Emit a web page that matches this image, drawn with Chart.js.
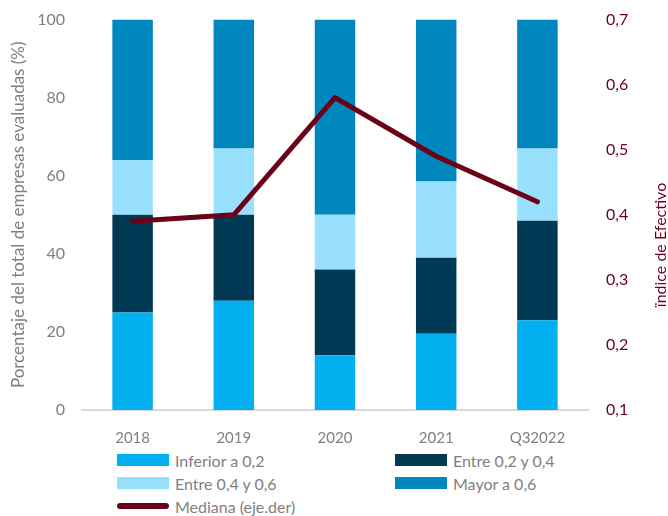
<!DOCTYPE html>
<html>
<head>
<meta charset="utf-8">
<script src="https://cdn.jsdelivr.net/npm/chart.js@4"></script>
<style>
  html, body { margin: 0; padding: 0; background: #fff; }
  #wrap { position: relative; width: 668px; height: 516px; }
  #chart { position: absolute; left: 0; top: 0; }
  #legend {
    position: absolute; left: 117px; top: 450px; width: 540px;
    display: grid; grid-template-columns: 278px 260px; row-gap: 3px;
    font-family: Lato, "Open Sans", sans-serif; font-size: 16px; color: #7f7f7f;
  }
  .item { display: flex; align-items: center; height: 20px; }
  .swatch { width: 52px; height: 12px; margin-right: 6px; }
  .swatch.line { height: 6px; border-radius: 3px; }
</style>
</head>
<body>
<div id="wrap">
  <canvas id="chart" width="668" height="450"></canvas>
  <div id="legend"></div>
</div>
<script>
const years = ['2018', '2019', '2020', '2021', 'Q32022'];

// share of companies by cash index band (%)
const inferior02 = [25, 28, 14, 19.5, 23];
const entre02y04 = [25, 22, 22, 19.5, 25.5];
const entre04y06 = [14, 17, 14, 19.5, 18.5];
const mayor06 = [36, 33, 50, 41.5, 33];

// median index, right axis
const mediana = [0.39, 0.40, 0.58, 0.49, 0.42];

const grey = '#7f7f7f';
const maroon = '#6b0019';
const font = 'Lato, "Open Sans", sans-serif';

const bar = (label, data, color) => ({
  type: 'bar', label, data, backgroundColor: color,
  yAxisID: 'y', stack: 'pct', order: 1,
  barPercentage: 0.4, categoryPercentage: 1
});

// right-hand axis title reads bottom to top
const rightTitle = {
  id: 'rightTitle',
  afterDraw(chart) {
    const { ctx } = chart;
    ctx.save();
    ctx.translate(661, 245);
    ctx.rotate(-Math.PI / 2);
    ctx.font = '16px ' + font;
    ctx.fillStyle = maroon;
    ctx.textAlign = 'center';
    ctx.textBaseline = 'middle';
    ctx.fillText('ïndice de Efectivo', 0, 0);
    ctx.restore();
  }
};

const chart = new Chart(document.getElementById('chart'), {
  data: {
    labels: years,
    datasets: [
      {
        type: 'line', label: 'Mediana (eje.der)', data: mediana,
        yAxisID: 'y1', borderColor: maroon, borderWidth: 5,
        pointRadius: 0, tension: 0, order: 0,
        borderCapStyle: 'round', borderJoinStyle: 'round'
      },
      bar('Inferior a 0,2', inferior02, '#02b0ef'),
      bar('Entre 0,2 y 0,4', entre02y04, '#003a55'),
      bar('Entre 0,4 y 0,6', entre04y06, '#98e0fd'),
      bar('Mayor a 0,6', mayor06, '#0087be')
    ]
  },
  options: {
    responsive: false,
    animation: false,
    layout: { padding: { top: 13, right: 0, left: 8, bottom: 0 } },
    plugins: { legend: { display: false }, tooltip: { enabled: false } },
    scales: {
      x: {
        stacked: true,
        grid: { display: false },
        border: { display: true, color: '#d9d9d9', width: 2 },
        ticks: { color: grey, font: { family: font, size: 15 }, padding: 11 },
        afterFit(s) { s.height = 40; }
      },
      y: {
        stacked: true, min: 0, max: 100,
        grid: { display: false }, border: { display: false },
        ticks: { stepSize: 20, color: grey, font: { family: font, size: 16 }, padding: 9 },
        title: {
          display: true, text: 'Porcentaje del total de empresas evaluadas (%)',
          color: grey, font: { family: font, size: 17 }, padding: 0
        },
        afterFit(s) { s.width = 74; }
      },
      y1: {
        position: 'right', min: 0.1, max: 0.7,
        grid: { display: false }, border: { display: false },
        ticks: {
          stepSize: 0.1, color: maroon, padding: 10,
          font: { family: font, size: 16 },
          callback: v => v.toFixed(1).replace('.', ',')
        },
        afterFit(s) { s.width = 80; }
      }
    }
  },
  plugins: [rightTitle]
});

// legend laid out in two columns, built from the datasets
const order = [1, 2, 3, 4, 0];
const legend = document.getElementById('legend');
order.forEach(i => {
  const ds = chart.data.datasets[i];
  const item = document.createElement('div');
  item.className = 'item';
  const sw = document.createElement('span');
  sw.className = 'swatch' + (ds.type === 'line' ? ' line' : '');
  sw.style.background = ds.type === 'line' ? ds.borderColor : ds.backgroundColor;
  const tx = document.createElement('span');
  tx.textContent = ds.label;
  item.appendChild(sw);
  item.appendChild(tx);
  legend.appendChild(item);
});
</script>
</body>
</html>
